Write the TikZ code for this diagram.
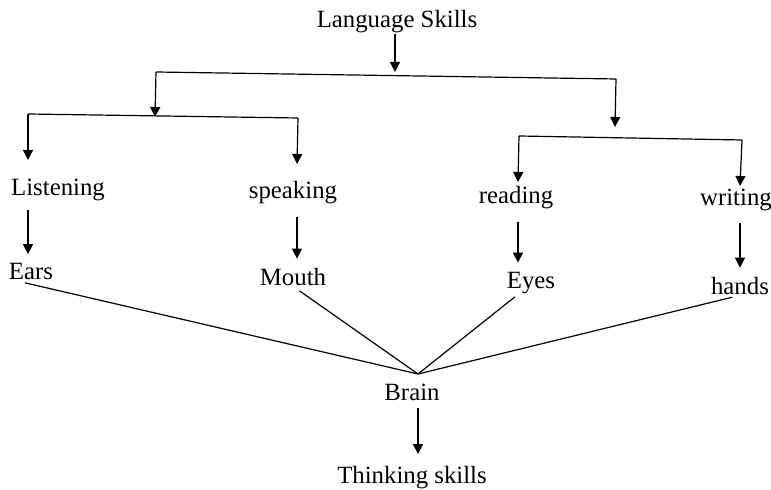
\documentclass[tikz,border=0pt]{standalone}
\usepackage{fontspec}
\setmainfont{Liberation Serif}
\usepackage{tikz}
\usetikzlibrary{calc,arrows.meta,positioning}

\begin{document}
\begin{tikzpicture}[x=0.5pt,y=-0.5pt,line width=0.6pt,
    arr/.style={-{Triangle[length=5pt,width=5pt]}},
    lbl/.style={font=\fontsize{12.4}{14}\selectfont}]
            \tikzstyle{every node}+=[inner sep=0pt]
            \useasboundingbox (0,0) rectangle (771,490);
            % labels
            \node [lbl] (lang) at (397,22) {Language Skills};
            \node [lbl] (listen) at (58,190) {Listening};
            \node [lbl] (speak) at (293,193) {speaking};
            \node [lbl] (read) at (516,198) {reading};
            \node [lbl] (write) at (736,200) {writing};
            \node [lbl] (ears) at (31,272) {Ears};
            \node [lbl] (mouth) at (293,277) {Mouth};
            \node [lbl] (eyes) at (531,283) {Eyes};
            \node [lbl] (hands) at (740,286) {hands};
            \node [lbl] (brain) at (412,392) {Brain};
            \node [lbl] (think) at (412,478) {Thinking skills};
            % bars
            \coordinate (top) at (395,72);
            \coordinate (tl) at (156,72);
            \coordinate (tr) at (616,79);
            \coordinate (ll) at (28,114);
            \coordinate (lr) at (298,118);
            \coordinate (lm) at (155,117);
            \coordinate (rl) at (519,136);
            \coordinate (rr) at (742,140);
            \coordinate (rm) at (615,127);
            \coordinate (lis-in) at (28,160);
            \coordinate (spk-in) at (297,164);
            \coordinate (rd-in) at (518,182);
            \coordinate (wr-in) at (740,186);
            \coordinate (bp) at (418,374);
            \draw [arr] (lang.south -| top) -- (top);
            \draw (tl) -- (tr);
            \draw [arr] (tl) -- (lm);
            \draw [arr] (tr) -- (rm);
            \draw (ll) -- (lr);
            \draw [arr] (ll) -- (lis-in);
            \draw [arr] (lr) -- (spk-in);
            \draw (rl) -- (rr);
            \draw [arr] (rl) -- (rd-in);
            \draw [arr] (rr) -- (wr-in);
            % skill to organ
            \draw [arr,shorten <=4.5pt,shorten >=4.5pt] (listen.south -| lis-in) -- (ears.north -| lis-in);
            \draw [arr,shorten <=6pt,shorten >=4.5pt] (speak.south -| spk-in) -- (mouth.north -| spk-in);
            \draw [arr,shorten <=6pt,shorten >=4.5pt] (read.south -| rd-in) -- (eyes.north -| rd-in);
            \draw [arr,shorten <=6pt,shorten >=4.5pt] (write.south -| wr-in) -- (hands.north -| wr-in);
            % organs to brain
            \draw ([xshift=-3pt,yshift=-1pt]ears.south) -- (bp);
            \draw [shorten <=4pt] (mouth.south) -- (bp);
            \draw [shorten <=2pt] (eyes.south -| rd-in) -- (bp);
            \draw [shorten <=4pt] (hands.south) -- (bp);
            \draw [arr,shorten <=3.5pt,shorten >=6pt] (brain.south -| bp) -- (think.north -| bp);
\end{tikzpicture}
\end{document}
